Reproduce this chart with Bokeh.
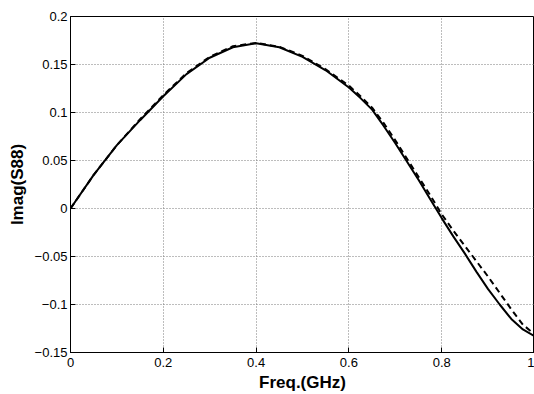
from bokeh.plotting import figure
from bokeh.embed import file_html
from bokeh.resources import INLINE
from bokeh.models import FixedTicker, Range1d

# ---- data ----
freq = [0.00, 0.05, 0.10, 0.15, 0.20, 0.25, 0.30, 0.35, 0.40, 0.45, 0.50,
        0.55, 0.60, 0.625, 0.65, 0.675, 0.70, 0.75, 0.775, 0.80, 0.825, 0.85,
        0.875, 0.90, 0.925, 0.95, 0.975, 1.00]
imag_solid = [0.000, 0.035, 0.066, 0.092, 0.117, 0.140, 0.157, 0.168, 0.1722, 0.168, 0.158,
              0.144, 0.126, 0.115, 0.103, 0.086, 0.068, 0.030, 0.010, -0.010, -0.029, -0.047,
              -0.066, -0.084, -0.100, -0.115, -0.126, -0.133]
imag_dashed = [0.000, 0.035, 0.066, 0.093, 0.118, 0.141, 0.158, 0.169, 0.1725, 0.1685, 0.159,
               0.145, 0.128, 0.117, 0.105, 0.089, 0.071, 0.033, 0.014, -0.006, -0.023, -0.039,
               -0.055, -0.071, -0.088, -0.105, -0.121, -0.131]

x_ticks = [0, 0.2, 0.4, 0.6, 0.8, 1]
x_tick_labels = ["0", "0.2", "0.4", "0.6", "0.8", "1"]
y_ticks = [-0.15, -0.1, -0.05, 0, 0.05, 0.1, 0.15, 0.2]
y_tick_labels = ["\u22120.15", "\u22120.1", "\u22120.05", "0", "0.05", "0.1", "0.15", "0.2"]

x_label = "Freq.(GHz)"
y_label = "Imag(S88)"

FONT = "Liberation Sans"

p = figure(width=534, height=394, output_backend="svg", toolbar_location=None,
           x_range=Range1d(0, 1), y_range=Range1d(-0.15, 0.2),
           min_border_left=70, min_border_right=0, min_border_top=16, min_border_bottom=41)

p.background_fill_color = "white"
p.border_fill_color = "white"
p.outline_line_color = "black"
p.outline_line_width = 1
p.outline_line_alpha = 1

p.line(freq, imag_solid, line_color="black", line_width=2)
p.line(freq, imag_dashed, line_color="black", line_width=2, line_dash="6 4")

# axes
p.xaxis.ticker = FixedTicker(ticks=x_ticks)
p.yaxis.ticker = FixedTicker(ticks=y_ticks)
p.xaxis.major_label_overrides = {t: l for t, l in zip(x_ticks, x_tick_labels)}
p.yaxis.major_label_overrides = {t: l for t, l in zip(y_ticks, y_tick_labels)}

for ax in (p.xaxis[0], p.yaxis[0]):
    ax.axis_line_color = "black"
    ax.axis_line_width = 1
    ax.major_tick_line_color = "black"
    ax.major_tick_in = 5
    ax.major_tick_out = 0
    ax.minor_tick_line_color = None
    ax.major_label_text_font = FONT
    ax.major_label_text_font_size = "13px"
    ax.major_label_text_color = "black"
    ax.axis_label_text_font = FONT
    ax.axis_label_text_font_size = "17px"
    ax.axis_label_text_font_style = "bold"
    ax.axis_label_text_color = "black"

p.xaxis.axis_label = x_label
p.yaxis.axis_label = y_label
p.xaxis.major_label_standoff = 5
p.xaxis.axis_label_standoff = 3
p.yaxis.major_label_standoff = 3
p.yaxis.axis_label_standoff = 5

# grid
for g in (p.xgrid[0], p.ygrid[0]):
    g.grid_line_color = "#7a7a7a"
    g.grid_line_dash = "1 2"
    g.grid_line_width = 1

open("out.html", "w").write(file_html(p, INLINE))
